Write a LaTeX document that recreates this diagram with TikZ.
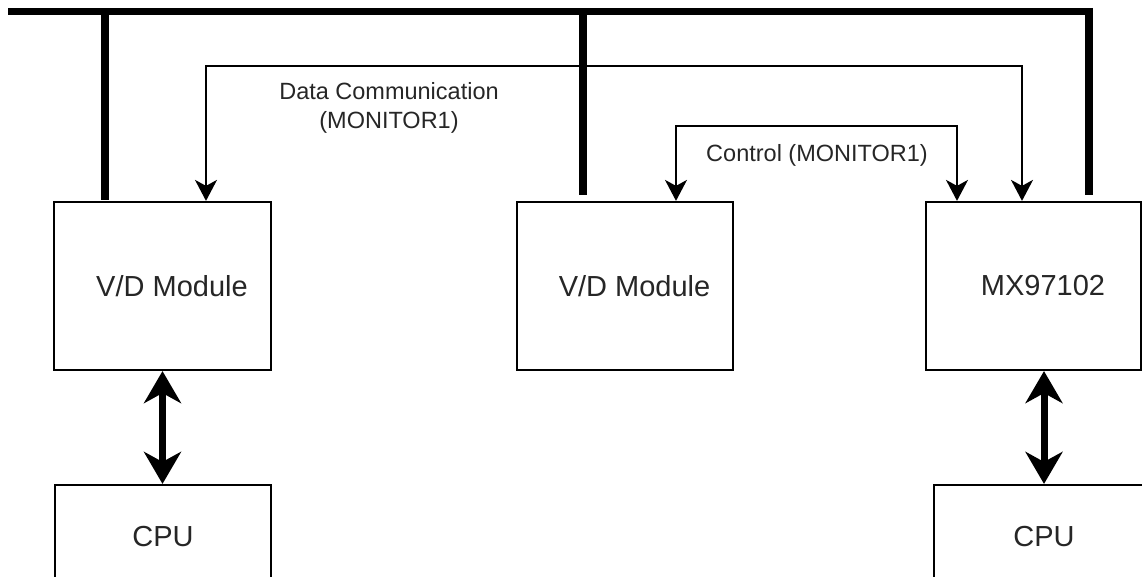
\documentclass[tikz,border=0pt]{standalone}
\usepackage{fontspec}
\setmainfont{Liberation Sans}
\usetikzlibrary{arrows.meta}

\begin{document}
\begin{tikzpicture}[x=1pt,y=-1pt,
    modbox/.style={draw,line width=2.2pt,minimum width=217pt,minimum height=168pt,inner sep=0pt},
    cpubox/.style={draw,line width=2.2pt,minimum width=216pt,minimum height=104pt,inner sep=0pt,
        font=\fontsize{29}{34}\selectfont,text=black!85},
    boxtext/.style={font=\fontsize{29}{34}\selectfont,text=black!85},
    bus/.style={line width=7.5pt},
    thinarrow/.style={line width=2pt,{Stealth[length=21pt,width=22pt,inset=6pt]}-{Stealth[length=21pt,width=22pt,inset=6pt]}},
    fatarrow/.style={line width=7pt,{Stealth[length=32pt,width=37pt,inset=10pt]}-{Stealth[length=32pt,width=37pt,inset=10pt]}},
    lbl/.style={font=\fontsize{23.5}{29}\selectfont,text=black!85,align=center}]
    \useasboundingbox (0,0) rectangle (1142,577);

    % Draw the modules
    \node[modbox,label={[boxtext,xshift=9.5pt]center:V/D Module}] (vd1) at (162.5,286) {};
    \node[modbox,minimum width=216pt,label={[boxtext,xshift=9.5pt]center:V/D Module}] (vd2) at (625,286) {};
    \node[modbox,minimum width=215pt,label={[boxtext,xshift=9.5pt]center:MX97102}] (mx) at (1033.5,286) {};
    \node[cpubox] (cpu1) at (163,537) {CPU};
    \node[cpubox,minimum width=220pt] (cpu2) at (1044,537) {CPU};

    % Draw the bus
    \coordinate (busL) at (8,11.5);
    \coordinate (busR) at (1089,11.5);
    \coordinate (b1) at (105,200);
    \coordinate (b2) at (583,195);
    \coordinate (b3) at (1089,195);
    \draw[bus] (busL) -- (busR);
    \draw[bus] (busL -| b1) -- (b1);
    \draw[bus] (busL -| b2) -- (b2);
    \draw[bus] (busR |- 0,8) -- (b3);

    % Data and control lines
    \coordinate (dl) at (206,66);
    \coordinate (dr) at (1022,66);
    \coordinate (cl) at (676,126);
    \coordinate (cr) at (957,126);
    \draw[thinarrow] (dl |- vd1.north) -- (dl) -- (dr) -- (dr |- mx.north);
    \draw[thinarrow] (cl |- vd2.north) -- (cl) -- (cr) -- (cr |- mx.north);
    \node[lbl] (datalbl) at (389,108) {Data Communication\\(MONITOR1)};
    \node[lbl] (ctrllbl) at (817,155) {Control (MONITOR1)};

    % Draw the CPU links
    \draw[fatarrow] (vd1.south) -- (cpu1.north -| vd1.south);
    \draw[fatarrow] (cpu2.north |- mx.south) -- (cpu2.north);
\end{tikzpicture}
\end{document}
